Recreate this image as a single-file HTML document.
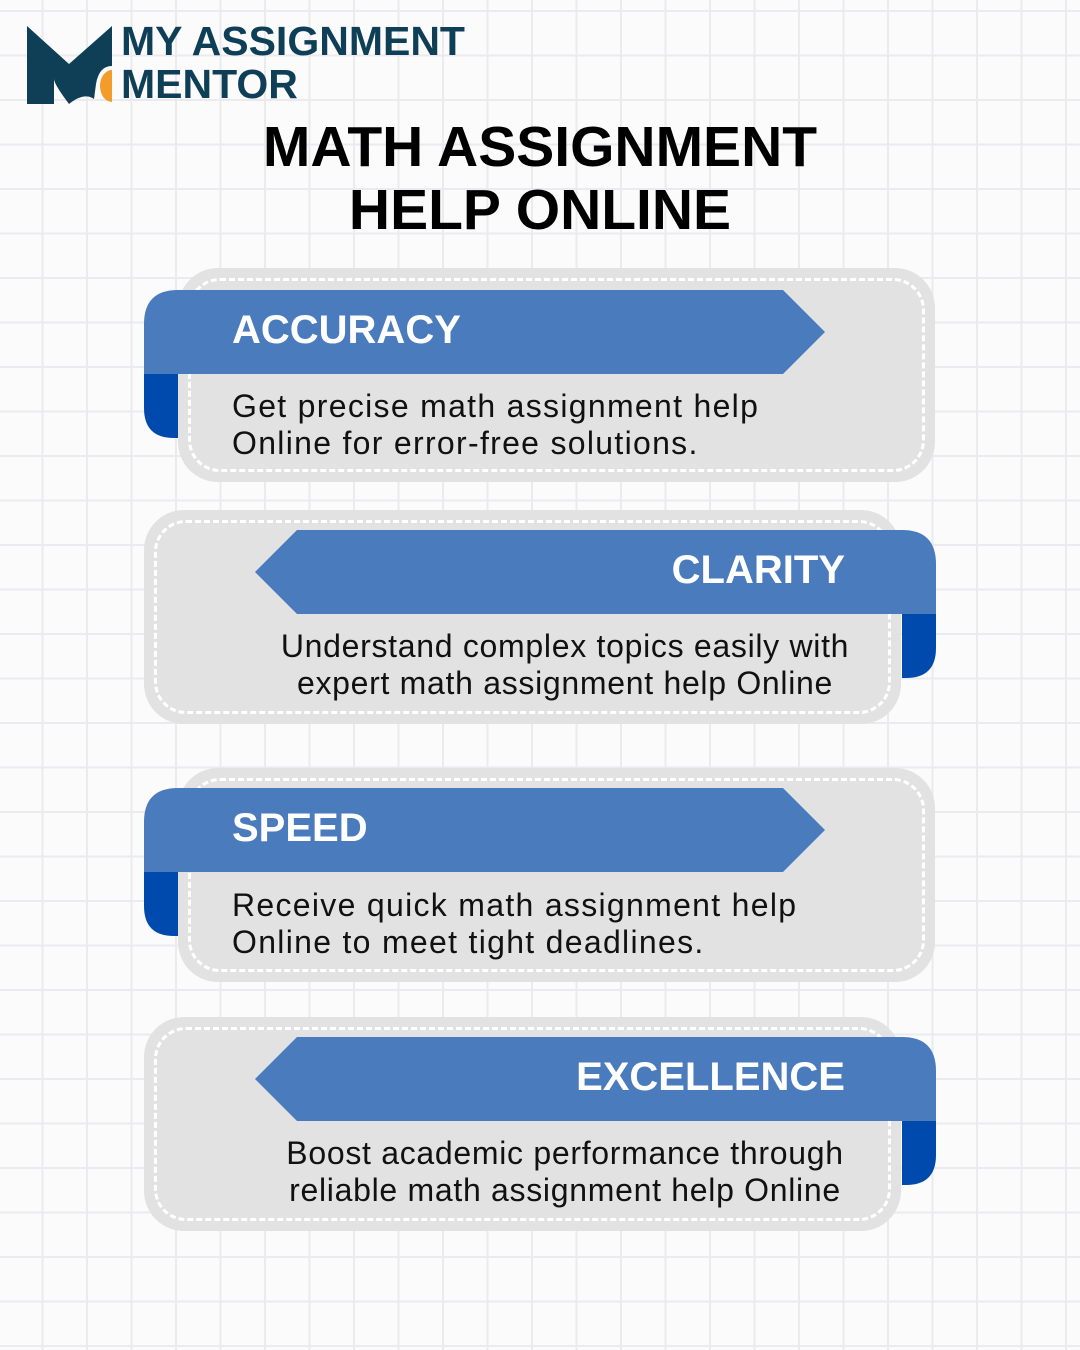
<!DOCTYPE html>
<html><head><style>
body{margin:0;width:1080px;height:1350px;overflow:hidden;font-family:"Liberation Sans",sans-serif;
background-color:#fbfbfc;
background-image:linear-gradient(#ebebef 2px,transparent 2px),linear-gradient(90deg,#ebebef 2px,transparent 2px);
background-size:44.5px 44.5px;background-position:-3px 10px;position:relative}
.a{position:absolute}
.card{position:absolute;background:#e2e2e2;border-radius:40px;height:214px;width:757px}
.card:after{content:"";position:absolute;left:10px;top:10px;right:10px;bottom:10px;border:3px dashed #fff;border-radius:32px}
.h{position:absolute;color:#fff;font-weight:bold;font-size:40px;top:20px}
.b{position:absolute;font-size:32px;line-height:37px;color:#111;letter-spacing:1.3px}
.r{letter-spacing:0.7px}
.t{position:absolute;width:1080px;text-align:center;font-weight:bold;font-size:57px;color:#000;line-height:63px;top:116px}
</style></head><body>
<svg class="a" style="left:24px;top:24px" width="92" height="82" viewBox="0 0 92 82">
<path d="M3 2 L45 40 L88 2 L88 42 Q75 42 72 60 L70 75 Q60 68 45 80 Q30 60 30 55 L30 80 L3 80 Z" fill="#0f3f57"/>
<path d="M88 46 A12 16 0 0 0 88 78 Z" fill="#f39c29"/>
</svg>
<div class="a" style="left:121px;top:20px;font-weight:bold;font-size:41px;color:#0f3f57;line-height:43px">MY ASSIGNMENT<br>MENTOR</div>
<div class="t">MATH ASSIGNMENT<br>HELP ONLINE</div>

<div class="card" style="left:178px;top:268px"></div>
<svg class="a" style="left:144px;top:290px" width="690" height="150">
<path d="M0 84 L34 84 L34 148 L30 148 Q0 148 0 118 Z" fill="#0049ad"/>
<path d="M34 0 L639 0 L681 42 L639 84 L0 84 L0 34 Q0 0 34 0 Z" fill="#4a7bbd"/>
</svg>
<div class="h" style="left:232px;top:308px">ACCURACY</div>
<div class="b" style="left:232px;top:388px">Get precise math assignment help<br>Online for error-free solutions.</div>

<div class="card" style="left:144px;top:510px"></div>
<svg class="a" style="left:255px;top:530px" width="682" height="150">
<path d="M647 84 L681 84 L681 118 Q681 148 651 148 L647 148 Z" fill="#0049ad"/>
<path d="M42 0 L647 0 Q681 0 681 34 L681 84 L42 84 L0 42 Z" fill="#4a7bbd"/>
</svg>
<div class="h" style="left:300px;width:545px;text-align:right;top:548px">CLARITY</div>
<div class="b r" style="left:250px;width:630px;text-align:center;top:628px">Understand complex topics easily with<br>expert math assignment help Online</div>

<div class="card" style="left:178px;top:768px"></div>
<svg class="a" style="left:144px;top:788px" width="690" height="150">
<path d="M0 84 L34 84 L34 148 L30 148 Q0 148 0 118 Z" fill="#0049ad"/>
<path d="M34 0 L639 0 L681 42 L639 84 L0 84 L0 34 Q0 0 34 0 Z" fill="#4a7bbd"/>
</svg>
<div class="h" style="left:232px;top:806px">SPEED</div>
<div class="b" style="left:232px;top:887px">Receive quick math assignment help<br>Online to meet tight deadlines.</div>

<div class="card" style="left:144px;top:1017px"></div>
<svg class="a" style="left:255px;top:1037px" width="682" height="150">
<path d="M647 84 L681 84 L681 118 Q681 148 651 148 L647 148 Z" fill="#0049ad"/>
<path d="M42 0 L647 0 Q681 0 681 34 L681 84 L42 84 L0 42 Z" fill="#4a7bbd"/>
</svg>
<div class="h" style="left:300px;width:545px;text-align:right;top:1055px">EXCELLENCE</div>
<div class="b r" style="left:250px;width:630px;text-align:center;top:1135px">Boost academic performance through<br>reliable math assignment help Online</div>
</body></html>
